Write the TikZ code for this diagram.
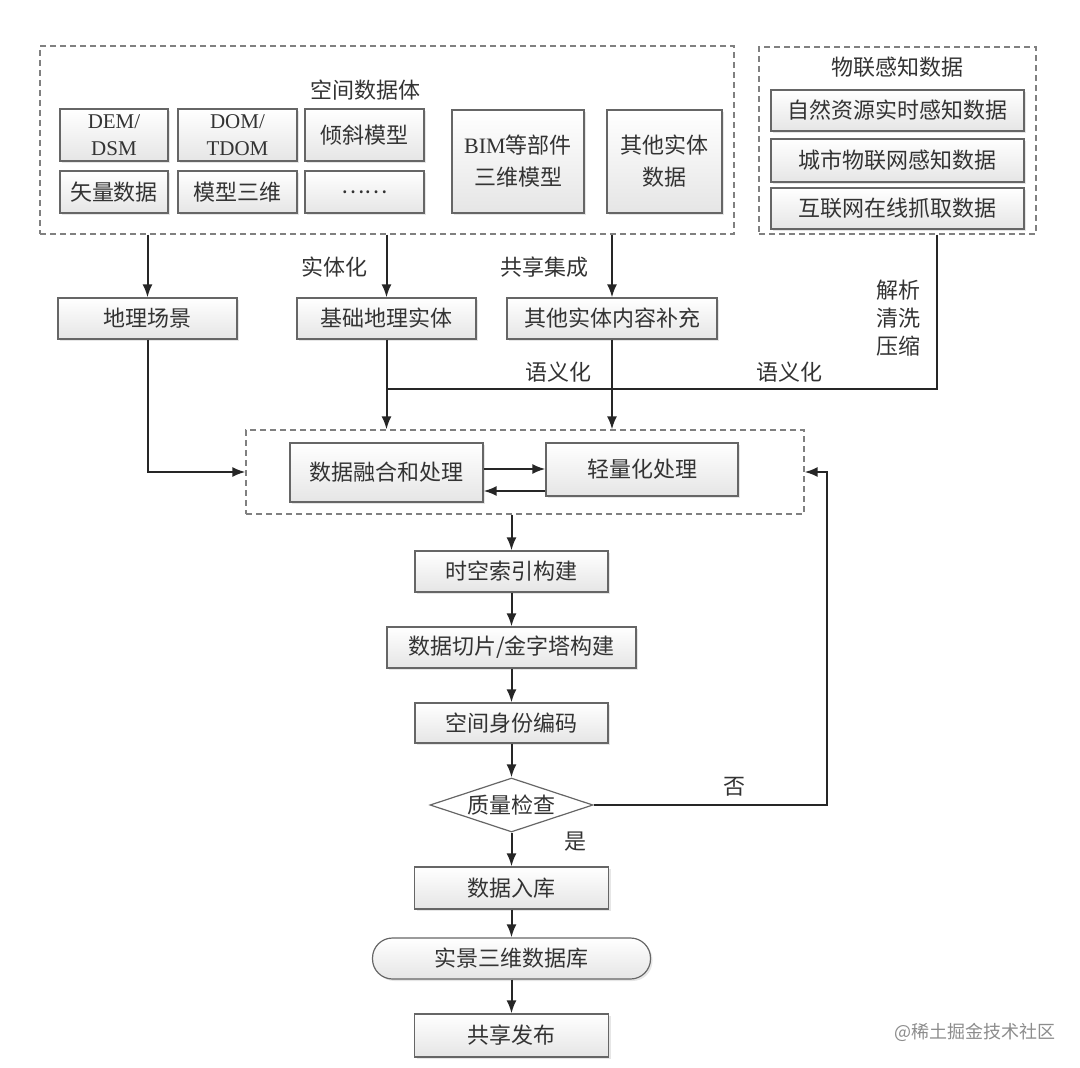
\documentclass[tikz,border=0pt]{standalone}
\usepackage{fontspec}
\setmainfont{Liberation Serif}
\newfontfamily\cjk{Noto Sans CJK SC}
\newfontfamily\lat{Liberation Serif}
\usetikzlibrary{arrows.meta,shapes.geometric,shadows}

\tikzset{
  cell/.style={draw=black!60, line width=1.2pt, top color=white, bottom color=black!10,
    drop shadow={shadow xshift=2pt, shadow yshift=-2pt, opacity=0.2},
    inner sep=0pt, align=center, text=black!80,
    font=\cjk\fontsize{22}{32}\selectfont},
  latin/.style={font=\lat\fontsize{21}{27}\selectfont},
  grp/.style={draw=black!50, dash pattern=on 6pt off 4pt, line width=1.2pt, inner sep=0pt},
  arr/.style={draw=black!85, line width=2pt, -{Latex[length=13pt,width=10pt]}},
  wire/.style={draw=black!85, line width=2pt},
  lbl/.style={text=black!80, font=\cjk\fontsize{22}{28}\selectfont, inner sep=0pt},
}

\begin{document}
\begin{tikzpicture}[x=1pt, y=-1pt]
    \useasboundingbox (0,0) rectangle (1080,1068);
    % dashed groups
    \node[grp, minimum width=694pt, minimum height=188pt] (space) at (387,140) {};
    \node[grp, minimum width=277pt, minimum height=187pt] (iot) at (897.5,140.5) {};
    \node[grp, minimum width=558pt, minimum height=84pt] (proc) at (525,472) {};

    % spatial data
    \node[lbl] (spacetitle) at (365,90) {空间数据体};
    \node[cell, latin, minimum width=108pt, minimum height=52pt] (dem) at (114,135) {DEM/\\DSM};
    \node[cell, latin, minimum width=119pt, minimum height=52pt] (dom) at (237.5,135) {DOM/\\TDOM};
    \node[cell, minimum width=119pt, minimum height=52pt] (oblique) at (364.5,135) {倾斜模型};
    \node[cell, minimum width=108pt, minimum height=42pt] (vector) at (114,192) {矢量数据};
    \node[cell, minimum width=119pt, minimum height=42pt] (model) at (237.5,192) {模型三维};
    \node[cell, minimum width=119pt, minimum height=42pt] (more) at (364.5,192) {……};
    \node[cell, minimum width=132pt, minimum height=103pt] (bim) at (518,161.5) {{\lat BIM}等部件\\三维模型};
    \node[cell, minimum width=115pt, minimum height=103pt] (entity) at (664.5,161.5) {其他实体\\数据};

    % iot data
    \node[lbl] (iottitle) at (897,67) {物联感知数据};
    \node[cell, minimum width=253pt, minimum height=41pt] (iot1) at (897.5,110.5) {自然资源实时感知数据};
    \node[cell, minimum width=253pt, minimum height=43pt] (iot2) at (897.5,160.5) {城市物联网感知数据};
    \node[cell, minimum width=253pt, minimum height=41pt] (iot3) at (897.5,208.5) {互联网在线抓取数据};

    % second row
    \node[cell, minimum width=179pt, minimum height=41pt] (scene) at (147.5,318.5) {地理场景};
    \node[cell, minimum width=179pt, minimum height=41pt] (base) at (386.5,318.5) {基础地理实体};
    \node[cell, minimum width=210pt, minimum height=41pt] (supp) at (612,318.5) {其他实体内容补充};

    % processing
    \node[cell, minimum width=193pt, minimum height=59pt] (fuse) at (386.5,472.5) {数据融合和处理};
    \node[cell, minimum width=192pt, minimum height=53pt] (light) at (642,469.5) {轻量化处理};

    % main flow
    \node[cell, minimum width=193pt, minimum height=41pt] (index) at (511.5,571.5) {时空索引构建};
    \node[cell, minimum width=249pt, minimum height=41pt] (tile) at (511.5,647.5) {数据切片/金字塔构建};
    \node[cell, minimum width=193pt, minimum height=40pt] (code) at (511.5,723) {空间身份编码};
    \node[diamond, aspect=3, draw=black!60, line width=1.2pt, fill=white, inner sep=0pt,
        minimum width=163pt, minimum height=54pt, text=black!80,
        font=\cjk\fontsize{22}{28}\selectfont] (check) at (511.5,805) {质量检查};
    \node[cell, minimum width=194pt, minimum height=42pt] (store) at (511.5,888) {数据入库};
    \node[cell, rounded corners=20pt, minimum width=278pt, minimum height=41pt] (db) at (511.5,958.5) {实景三维数据库};
    \node[cell, minimum width=194pt, minimum height=43pt] (pub) at (511.5,1035.5) {共享发布};

    % labels
    \node[lbl] (lentity) at (334,267) {实体化};
    \node[lbl] (lshare) at (544,267) {共享集成};
    \node[lbl, align=center] (lparse) at (898,318) {解析\\清洗\\压缩};
    \node[lbl] (lsem1) at (558,372) {语义化};
    \node[lbl] (lsem2) at (789,372) {语义化};
    \node[lbl] (lno) at (734,787) {否};
    \node[lbl] (lyes) at (575,842) {是};
    \node[text=black!45, font=\cjk\fontsize{18}{18}\selectfont, inner sep=0pt] (mark) at (975,1032) {@稀土掘金技术社区};

    % connectors
    \draw[arr] (space.south -| scene) -- (scene);
    \draw[arr] (space.south -| base) -- (base);
    \draw[arr] (space.south -| supp) -- (supp);
    \coordinate (turn) at (937,389);
    \draw[wire] (turn |- iot.south) -- (turn) -- (turn -| base);
    \draw[arr] (base) -- (base |- proc.north);
    \draw[arr] (supp) -- (supp |- proc.north);
    \draw[arr] (scene) |- (proc.west);
    \coordinate (fa) at ([yshift=3.5pt]fuse.east);
    \coordinate (fb) at ([yshift=-18.5pt]fuse.east);
    \draw[arr] (fa) -- (fa -| light.west);
    \draw[arr] (fb -| light.west) -- (fb);
    \draw[arr] (proc.south -| index) -- (index);
    \draw[arr] (index) -- (tile);
    \draw[arr] (tile) -- (code);
    \draw[arr] (code) -- (check);
    \draw[arr] (check) -- (store);
    \draw[arr] (store) -- (db);
    \draw[arr] (db) -- (pub);
    \draw[arr] (check.east) -| ([xshift=22pt]proc.east) -- (proc.east);
\end{tikzpicture}
\end{document}
